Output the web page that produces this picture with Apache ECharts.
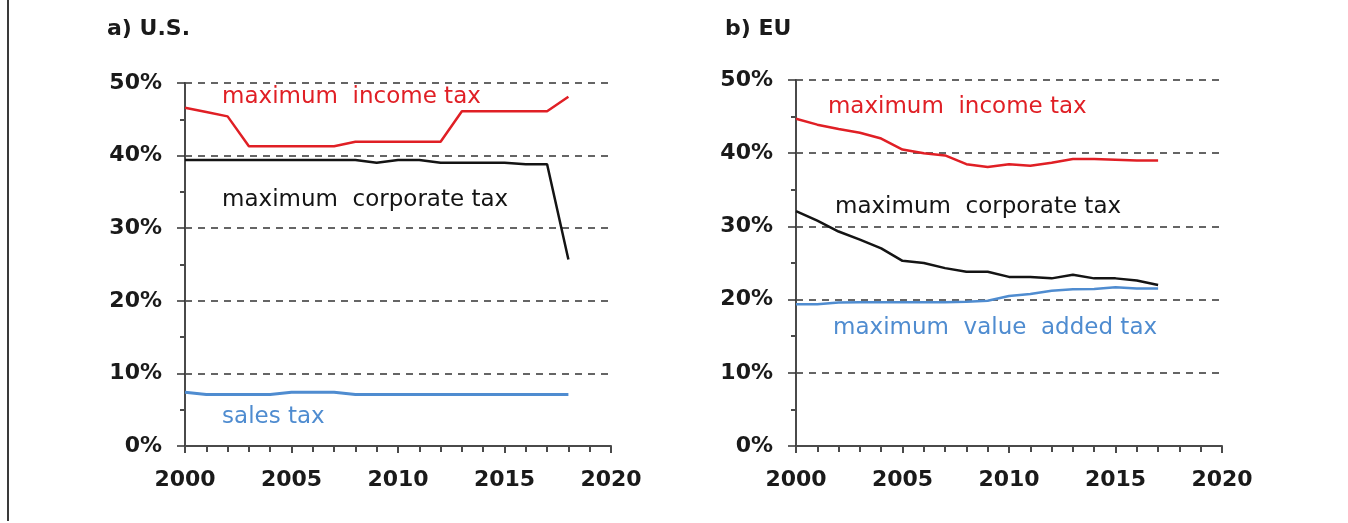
<!DOCTYPE html>
<html>
<head>
<meta charset="utf-8">
<script src="https://cdn.jsdelivr.net/npm/echarts@6/dist/echarts.min.js"></script>
<style>
  html, body { margin: 0; padding: 0; background: #ffffff; }
  #chart { width: 1348px; height: 523px; }
</style>
</head>
<body>
<div id="chart"></div>
<script>
// Years
const usYears = [2000,2001,2002,2003,2004,2005,2006,2007,2008,2009,2010,2011,2012,2013,2014,2015,2016,2017,2018];
const euYears = [2000,2001,2002,2003,2004,2005,2006,2007,2008,2009,2010,2011,2012,2013,2014,2015,2016,2017];

// a) U.S. rates (%)
const usIncome    = [46.6,46.0,45.4,41.3,41.3,41.3,41.3,41.3,41.9,41.9,41.9,41.9,41.9,46.1,46.1,46.1,46.1,46.1,48.1];
const usCorporate = [39.4,39.4,39.4,39.4,39.4,39.4,39.4,39.4,39.4,39.0,39.4,39.4,39.0,39.0,39.0,39.0,38.8,38.8,25.7];
const usSales     = [7.4,7.1,7.1,7.1,7.1,7.4,7.4,7.4,7.1,7.1,7.1,7.1,7.1,7.1,7.1,7.1,7.1,7.1,7.1];

// b) EU rates (%)
const euIncome    = [44.7,43.9,43.3,42.8,42.0,40.5,40.0,39.7,38.5,38.1,38.5,38.3,38.7,39.2,39.2,39.1,39.0,39.0];
const euCorporate = [32.1,30.8,29.3,28.2,27.0,25.3,25.0,24.3,23.8,23.8,23.1,23.1,22.9,23.4,22.9,22.9,22.6,22.0];
const euVat       = [19.35,19.35,19.6,19.65,19.65,19.65,19.65,19.65,19.7,19.85,20.5,20.75,21.2,21.4,21.45,21.7,21.5,21.5];

// Axis ticks
const yTicks = [0, 10, 20, 30, 40, 50];
const xTicks = [2000, 2005, 2010, 2015, 2020];

const RED = '#e01f25';
const BLACK = '#141414';
const BLUE = '#4f8cd0';
const FONT = 'DejaVu Sans';

function pairs(xs, ys) { return xs.map((x, i) => [x, ys[i]]); }

function xAxisFor(idx) {
  return {
    gridIndex: idx, type: 'value',
    min: xTicks[0], max: xTicks[xTicks.length - 1], interval: 5,
    axisLine: { show: true, onZero: false, lineStyle: { color: '#4a4a4a', width: 2 } },
    axisTick: { show: true, inside: false, length: 7, lineStyle: { color: '#4a4a4a', width: 2 } },
    minorTick: { show: true, splitNumber: 5, length: 6, lineStyle: { color: '#4a4a4a', width: 2 } },
    splitLine: { show: false },
    axisLabel: { margin: 23, color: '#1a1a1a', fontFamily: FONT, fontWeight: 'bold', fontSize: 22,
                 formatter: (v) => String(v) }
  };
}

function yAxisFor(idx) {
  return {
    gridIndex: idx, type: 'value',
    min: yTicks[0], max: yTicks[yTicks.length - 1], interval: 10,
    axisLine: { show: true, lineStyle: { color: '#4a4a4a', width: 2 } },
    axisTick: { show: true, inside: false, length: 8, lineStyle: { color: '#333', width: 1.5 } },
    minorTick: { show: true, splitNumber: 2, length: 5, lineStyle: { color: '#4a4a4a', width: 2 } },
    splitLine: { show: true, lineStyle: { color: '#333', width: 1.5, type: [7, 6] } },
    axisLabel: { margin: 23, color: '#1a1a1a', fontFamily: FONT, fontWeight: 'bold', fontSize: 22,
                 formatter: '{value}%' }
  };
}

function lineSeries(idx, xs, ys, color, width) {
  return {
    type: 'line', xAxisIndex: idx, yAxisIndex: idx,
    data: pairs(xs, ys), symbol: 'none', smooth: false,
    lineStyle: { color: color, width: width }, z: 5, silent: true
  };
}

function textSeries(idx, x, y, text, color) {
  return {
    type: 'scatter', xAxisIndex: idx, yAxisIndex: idx,
    data: [[x, y]], symbolSize: 0, silent: true, z: 6,
    itemStyle: { opacity: 1 },
    label: { show: true, position: 'right', distance: 0, formatter: text, opacity: 1,
             color: color, fontFamily: FONT, fontSize: 23 }
  };
}

const chart = echarts.init(document.getElementById('chart'), null, { renderer: 'canvas' });
chart.setOption({
  animation: false,
  backgroundColor: '#ffffff',
  title: [
    { text: 'a) U.S.', left: 102, top: 13, textStyle: { fontFamily: FONT, fontWeight: 'bold', fontSize: 22, color: '#1a1a1a' } },
    { text: 'b) EU', left: 720, top: 13, textStyle: { fontFamily: FONT, fontWeight: 'bold', fontSize: 22, color: '#1a1a1a' } }
  ],
  grid: [
    { left: 185, top: 83, width: 426, height: 363 },
    { left: 796, top: 80, width: 426, height: 366 }
  ],
  xAxis: [xAxisFor(0), xAxisFor(1)],
  yAxis: [yAxisFor(0), yAxisFor(1)],
  graphic: [
    { type: 'line', shape: { x1: 8, y1: 0, x2: 8, y2: 521 }, style: { stroke: '#3a3a3a', lineWidth: 2 } }
  ],
  series: [
    lineSeries(0, usYears, usIncome, RED, 2.5),
    lineSeries(0, usYears, usCorporate, BLACK, 2.5),
    lineSeries(0, usYears, usSales, BLUE, 3),
    lineSeries(1, euYears, euIncome, RED, 2.5),
    lineSeries(1, euYears, euCorporate, BLACK, 2.5),
    lineSeries(1, euYears, euVat, BLUE, 2.5),
    textSeries(0, 2001.74, 48.1, 'maximum  income tax', RED),
    textSeries(0, 2001.74, 33.9, 'maximum  corporate tax', BLACK),
    textSeries(0, 2001.74, 4.0, 'sales tax', BLUE),
    textSeries(1, 2001.5, 46.3, 'maximum  income tax', RED),
    textSeries(1, 2001.83, 32.65, 'maximum  corporate tax', BLACK),
    textSeries(1, 2001.74, 16.1, 'maximum  value  added tax', BLUE)
  ]
});
</script>
</body>
</html>
